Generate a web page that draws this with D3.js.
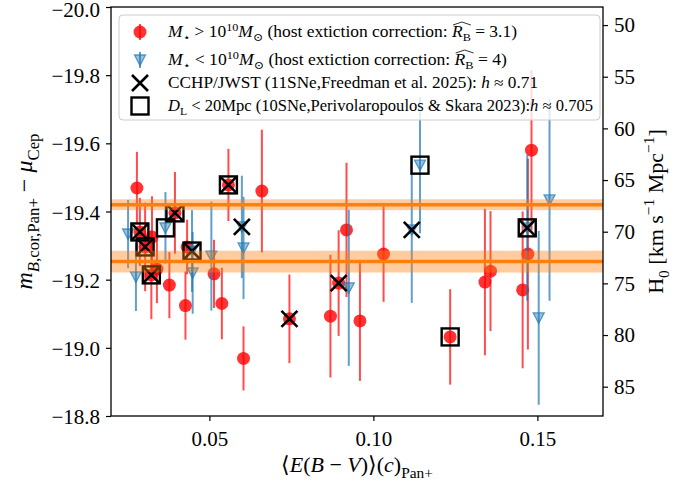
<!DOCTYPE html>
<html>
<head>
<meta charset="utf-8">
<script src="https://cdn.jsdelivr.net/npm/d3@7"></script>
<style>
  body { margin: 0; background: #fff; }
  svg text { font-family: "Liberation Serif", "DejaVu Serif", serif; fill: #000; }
</style>
</head>
<body>
<script>
// ---- data ----
// high-mass hosts (red circles)
const redX = [0.0279, 0.0288, 0.0325, 0.0304, 0.0340, 0.0323, 0.0378, 0.0395, 0.0432, 0.0427,
  0.0514, 0.0538, 0.0558, 0.0604, 0.0660, 0.0744, 0.0869, 0.0894, 0.0918, 0.0959,
  0.1031, 0.1234, 0.1340, 0.1357, 0.1455, 0.1471, 0.1482];
const redM = [-19.469, -19.340, -19.325, -19.296, -19.231, -19.214, -19.184, -19.396, -19.296, -19.124,
  -19.217, -19.130, -19.478, -18.969, -19.460, -19.085, -19.093, -19.190, -19.346, -19.079,
  -19.275, -19.032, -19.193, -19.225, -19.170, -19.275, -19.580];
const redErr = [0.106, 0.10, 0.12, 0.13, 0.10, 0.13, 0.097, 0.12, 0.08, 0.10,
  0.10, 0.105, 0.106, 0.094, 0.18, 0.13, 0.18, 0.155, 0.197, 0.176,
  0.14, 0.14, 0.215, 0.176, 0.23, 0.28, 0.235];

// low-mass hosts (blue triangles)
const blueX = [0.0252, 0.0276, 0.0366, 0.0447, 0.0449, 0.0506, 0.0599, 0.0604, 0.0925, 0.1117,
  0.1142, 0.1469, 0.1504, 0.1537];
const blueM = [-19.334, -19.208, -19.352, -19.284, -19.220, -19.269, -19.355, -19.293, -19.176, -19.346,
  -19.536, -19.352, -19.088, -19.434];
const blueErr = [0.10, 0.10, 0.105, 0.12, 0.12, 0.16, 0.15, 0.15, 0.229, 0.214,
  0.20, 0.214, 0.255, 0.296];

// CCHP/JWST subset (crosses)
const cchpX = [0.0288, 0.0304, 0.0323, 0.0395, 0.0447, 0.0558, 0.0599, 0.0744, 0.0894, 0.1117, 0.1469];
const cchpM = [-19.340, -19.296, -19.214, -19.396, -19.284, -19.478, -19.355, -19.085, -19.190, -19.346, -19.352];

// D_L < 20 Mpc subset (squares)
const dlX = [0.0288, 0.0304, 0.0323, 0.0366, 0.0395, 0.0447, 0.0558, 0.1142, 0.1234, 0.1469];
const dlM = [-19.340, -19.296, -19.214, -19.352, -19.396, -19.284, -19.478, -19.536, -19.032, -19.352];

// horizontal reference bands
const bandM = [-19.42, -19.253];
const bandErr = [0.016, 0.032];

const yTicks = [-20.0, -19.8, -19.6, -19.4, -19.2, -19.0, -18.8];
const xTicks = [0.05, 0.10, 0.15];
const h0Ticks = [50, 55, 60, 65, 70, 75, 80, 85];

// ---- layout ----
const W = 692, H = 485;
const m = { left: 111, top: 7, right: 89, bottom: 69 };

const svg = d3.select('body').append('svg').attr('width', W).attr('height', H);

const x = d3.scaleLinear().domain([0.02, 0.17]).range([m.left, W - m.right]);
const y = d3.scaleLinear().domain([-20, -18.8]).range([m.top, H - m.bottom]);
const h0 = d3.scaleLinear().domain([50, 85]).range([y(-19.947), y(-18.886)]);

const red = '#ff0000', blue = '#1f77b4', orange = '#ff7f0e';

// rich text helper: parts = [[text, style]] style: '', 'i', 'sub', 'isub', 'sup'
function rich(t, parts, size) {
  let shift = 0;
  parts.forEach(([s, st]) => {
    let target = 0, fs = size;
    if (st === 'sub' || st === 'isub') { target = size * 0.28; fs = size * 0.7; }
    if (st === 'sup') { target = -size * 0.4; fs = size * 0.7; }
    t.append('tspan')
      .attr('dy', target - shift)
      .attr('font-size', fs)
      .attr('font-style', st === 'i' || st === 'isub' ? 'italic' : 'normal')
      .text(s);
    shift = target;
  });
  return t;
}

// ---- data ----
const g = svg.append('g');

const redIdx = d3.range(redX.length);
g.selectAll('line.rerr').data(redIdx).enter().append('line')
  .attr('x1', i => x(redX[i])).attr('x2', i => x(redX[i]))
  .attr('y1', i => y(redM[i] - redErr[i])).attr('y2', i => y(redM[i] + redErr[i]))
  .attr('stroke', red).attr('stroke-opacity', 0.7).attr('stroke-width', 2);
g.selectAll('circle.rpt').data(redIdx).enter().append('circle')
  .attr('cx', i => x(redX[i])).attr('cy', i => y(redM[i])).attr('r', 6.5)
  .attr('fill', red).attr('fill-opacity', 0.8);

const blueIdx = d3.range(blueX.length);
const tri = 'M-5.5,-5L5.5,-5L0,5.5Z';
g.selectAll('line.berr').data(blueIdx).enter().append('line')
  .attr('x1', i => x(blueX[i])).attr('x2', i => x(blueX[i]))
  .attr('y1', i => y(blueM[i] - blueErr[i])).attr('y2', i => y(blueM[i] + blueErr[i]))
  .attr('stroke', blue).attr('stroke-opacity', 0.7).attr('stroke-width', 2);
g.selectAll('path.bpt').data(blueIdx).enter().append('path')
  .attr('d', tri)
  .attr('transform', i => `translate(${x(blueX[i])},${y(blueM[i])})`)
  .attr('fill', blue).attr('fill-opacity', 0.45)
  .attr('stroke', blue).attr('stroke-opacity', 0.7).attr('stroke-width', 1.3);

g.selectAll('path.cchp').data(d3.range(cchpX.length)).enter().append('path')
  .attr('d', 'M-8,-8L8,8M-8,8L8,-8')
  .attr('transform', i => `translate(${x(cchpX[i])},${y(cchpM[i])})`)
  .attr('stroke', '#000').attr('stroke-width', 2.6).attr('fill', 'none');

g.selectAll('rect.dl').data(d3.range(dlX.length)).enter().append('rect')
  .attr('x', i => x(dlX[i]) - 8.5).attr('y', i => y(dlM[i]) - 8.5)
  .attr('width', 17).attr('height', 17)
  .attr('stroke', '#000').attr('stroke-width', 2.4).attr('fill', 'none');

// bands and lines drawn over the points
bandM.forEach((v, i) => {
  svg.append('rect')
    .attr('x', m.left).attr('width', W - m.right - m.left)
    .attr('y', y(v - bandErr[i])).attr('height', y(v + bandErr[i]) - y(v - bandErr[i]))
    .attr('fill', orange).attr('fill-opacity', 0.4);
  svg.append('line')
    .attr('x1', m.left).attr('x2', W - m.right)
    .attr('y1', y(v)).attr('y2', y(v))
    .attr('stroke', orange).attr('stroke-width', 3.5);
});

// ---- axes ----
const fmtY = d3.format('.1f');
const axL = svg.append('g').attr('transform', `translate(${m.left},0)`)
  .call(d3.axisLeft(y).tickValues(yTicks).tickFormat(fmtY).tickSize(5).tickPadding(6));
const axB = svg.append('g').attr('transform', `translate(0,${H - m.bottom})`)
  .call(d3.axisBottom(x).tickValues(xTicks).tickFormat(d3.format('.2f')).tickSize(5).tickPadding(6));
const axR = svg.append('g').attr('transform', `translate(${W - m.right},0)`)
  .call(d3.axisRight(h0).tickValues(h0Ticks).tickSize(5).tickPadding(6));
[axL, axB, axR].forEach(a => {
  a.select('.domain').remove();
  a.selectAll('.tick line').attr('stroke', '#000').attr('stroke-width', 1.2);
  a.selectAll('.tick text').attr('font-family', '"Liberation Serif", serif').attr('font-size', 21).attr('fill', '#000');
});
axL.selectAll('.tick text').attr('dy', d => d === yTicks[0] ? '0.45em' : '0.36em');
axB.selectAll('.tick text').attr('dy', '0.9em');

svg.append('rect')
  .attr('x', m.left).attr('y', m.top)
  .attr('width', W - m.right - m.left).attr('height', H - m.bottom - m.top)
  .attr('fill', 'none').attr('stroke', '#000').attr('stroke-width', 1.3);

// axis labels
rich(svg.append('text').attr('text-anchor', 'middle')
  .attr('transform', `translate(32,${(m.top + H - m.bottom) / 2}) rotate(-90)`),
  [['m', 'i'], ['B', 'isub'], [',cor,Pan+', 'sub'], [' − ', ''], ['μ', 'i'], ['Cep', 'sub']], 24);

rich(svg.append('text').attr('text-anchor', 'middle')
  .attr('transform', `translate(${(m.left + W - m.right) / 2},472)`),
  [['⟨', ''], ['E', 'i'], ['(', ''], ['B', 'i'], [' − ', ''], ['V', 'i'], [')⟩(', ''], ['c', 'i'], [')', ''], ['Pan+', 'sub']], 22);

rich(svg.append('text').attr('text-anchor', 'middle')
  .attr('transform', `translate(663,${(m.top + H - m.bottom) / 2}) rotate(-90)`),
  [['H', ''], ['0', 'sub'], [' [km s', ''], ['−1', 'sup'], [' Mpc', ''], ['−1', 'sup'], [']', '']], 22);

// ---- legend ----
const lg = svg.append('g');
lg.append('rect').attr('x', 119).attr('y', 15).attr('width', 481).attr('height', 105).attr('rx', 4)
  .attr('fill', '#fff').attr('fill-opacity', 0.8).attr('stroke', '#cccccc').attr('stroke-width', 1);

const lx = 140, tx = 168;
const rowY = [32, 60, 83, 106];
const rowW = [349, 339, 370, 425];

// markers
lg.append('line').attr('x1', lx).attr('x2', lx).attr('y1', rowY[0] - 8).attr('y2', rowY[0] + 8)
  .attr('stroke', red).attr('stroke-opacity', 0.7).attr('stroke-width', 2);
lg.append('circle').attr('cx', lx).attr('cy', rowY[0]).attr('r', 6.5).attr('fill', red).attr('fill-opacity', 0.8);
lg.append('line').attr('x1', lx).attr('x2', lx).attr('y1', rowY[1] - 8).attr('y2', rowY[1] + 8)
  .attr('stroke', blue).attr('stroke-opacity', 0.7).attr('stroke-width', 2);
lg.append('path').attr('d', tri).attr('transform', `translate(${lx},${rowY[1]})`)
  .attr('fill', blue).attr('fill-opacity', 0.45).attr('stroke', blue).attr('stroke-opacity', 0.7).attr('stroke-width', 1.3);
lg.append('path').attr('d', 'M-8,-8L8,8M-8,8L8,-8').attr('transform', `translate(${lx},${rowY[2]})`)
  .attr('stroke', '#000').attr('stroke-width', 2.6);
lg.append('rect').attr('x', lx - 8.5).attr('y', rowY[3] - 8.5).attr('width', 17).attr('height', 17)
  .attr('fill', 'none').attr('stroke', '#000').attr('stroke-width', 2.4);

const legendRows = [
  [['M', 'i'], ['⋆', 'sub'], [' > 10', ''], ['10', 'sup'], ['M', 'i'], ['⊙', 'sub'], [' (host extiction correction: ', ''], ['R', 'i'], ['B', 'sub'], [' = 3.1)', '']],
  [['M', 'i'], ['⋆', 'sub'], [' < 10', ''], ['10', 'sup'], ['M', 'i'], ['⊙', 'sub'], [' (host extiction correction: ', ''], ['R', 'i'], ['B', 'sub'], [' = 4)', '']],
  [['CCHP/JWST (11SNe,Freedman et al. 2025): ', ''], ['h', 'i'], [' ≈ 0.71', '']],
  [['D', 'i'], ['L', 'sub'], [' < 20Mpc (10SNe,Perivolaropoulos & Skara 2023):', ''], ['h', 'i'], [' ≈ 0.705', '']]
];

legendRows.forEach((parts, r) => {
  const t = lg.append('text').attr('x', tx).attr('y', rowY[r] + 5);
  rich(t, parts, 16);
  t.attr('textLength', rowW[r]).attr('lengthAdjust', 'spacingAndGlyphs');
  if (r < 2) {
    // wide hat over R_B
    const idx = parts.slice(0, 7).reduce((s, p) => s + p[0].length, 0);
    const n = t.node();
    const a = n.getExtentOfChar(idx), b = n.getExtentOfChar(idx + 1);
    const x0 = a.x + 1, x1 = b.x + b.width, top = a.y - 1;
    lg.append('path').attr('d', `M${x0},${top + 3}L${(x0 + x1) / 2},${top}L${x1},${top + 3}`)
      .attr('fill', 'none').attr('stroke', '#000').attr('stroke-width', 0.8);
  }
});
</script>
</body>
</html>
